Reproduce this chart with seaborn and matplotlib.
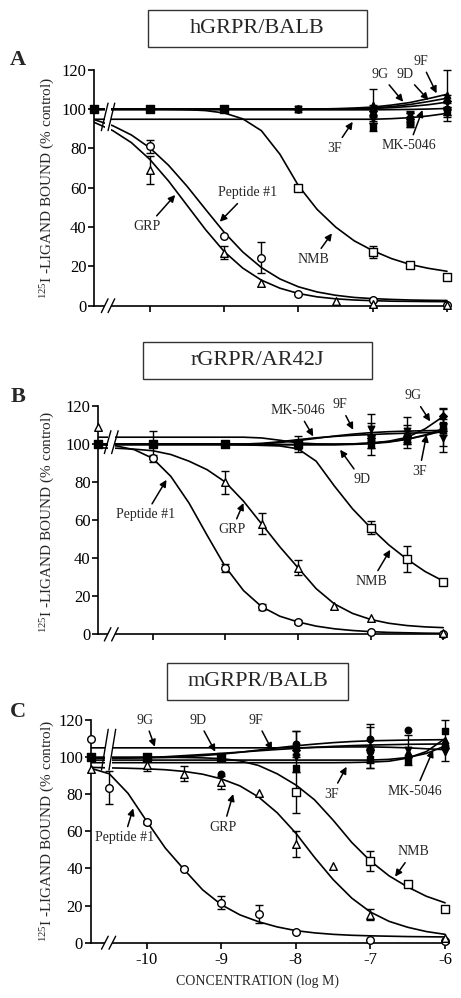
import numpy as np
import pandas as pd
import seaborn as sns
import matplotlib.pyplot as plt
from matplotlib.patches import Rectangle

nan = np.nan

# log M grid on which the fitted curves were read (control sits at -10.75)
CURVE_X = [-10.75, -10.5, -10.25, -10.0, -9.75, -9.5, -9.25, -9.0, -8.75, -8.5,
           -8.25, -8.0, -7.75, -7.5, -7.25, -7.0, -6.75, -6.5, -6.25, -6.0]

DOSE_AB = [-10.75, -10, -9, -8.5, -8, -7.5, -7, -6.5, -6]
DOSE_C = [-10.75, -10.5, -10, -9.5, -9, -8.5, -8, -7.5, -7, -6.5, -6]

OPEN_NAMES = ["Peptide #1", "GRP", "NMB"]
FILLED_NAMES = ["9D", "9F", "9G", "MK-5046", "3F"]
MARKS = {"Peptide #1": "o", "GRP": "^", "NMB": "s",
         "9D": "o", "9F": "^", "9G": "D", "3F": "s", "MK-5046": "v"}

# ---- panel A : hGRPR/BALB ----
A_FIT = {
    "Peptide #1": [94.6, 91.5, 86.8, 80.2, 71.4, 60.7, 48.9, 37.3, 27.3, 19.4,
                   13.6, 9.6, 7.0, 5.3, 4.2, 3.6, 3.2, 2.9, 2.75, 2.65],
    "GRP": [93.2, 89.0, 82.9, 74.3, 63.4, 51.0, 38.6, 27.5, 19.1, 13.0,
            8.9, 6.2, 4.5, 3.5, 2.9, 2.55, 2.3, 2.2, 2.1, 2.05],
    "NMB": [100, 100, 100, 100, 99.9, 99.7, 99.2, 98, 95, 89,
            77, 61, 49, 40, 33, 28, 24, 21, 19, 17.5],
    "9D": [100, 100, 100, 100, 100, 100, 100, 100, 100, 100,
           100, 100, 100, 100, 100.2, 100.5, 101.2, 102.3, 103.8, 105.5],
    "9F": [100, 100, 100, 100, 100, 100, 100, 100, 100, 100,
           100, 100, 100, 100.2, 100.5, 101, 102, 103.3, 105.3, 107.5],
    "9G": [100, 100, 100, 100, 100, 100, 100, 100, 100, 100,
           100, 100, 100, 100, 100.1, 100.3, 100.7, 101.3, 102.2, 103.5],
    "3F": [94.8, 94.8, 94.8, 94.8, 94.8, 94.8, 94.8, 94.8, 94.8, 94.8,
           94.8, 94.8, 94.8, 94.8, 94.8, 94.8, 95.1, 95.6, 96.5, 97.8],
    "MK-5046": [99.6, 99.6, 99.6, 99.6, 99.6, 99.6, 99.6, 99.6, 99.6, 99.6,
                99.6, 99.6, 99.6, 99.6, 99.6, 99.6, 99.7, 99.8, 100, 100.3],
}
A_PTS = {
    "Peptide #1": [100, 81, 35.5, 24.5, 6, nan, 3, nan, 0.5],
    "GRP": [100, 69, 27, 11.5, nan, 2.5, 1, nan, 0.3],
    "NMB": [100, 100, 100, nan, 60, nan, 27.5, 20.5, 14.5],
    "9D": [100, 100, 100, nan, 100, nan, 97, 93, 100],
    "9F": [100, 100, 100, nan, 100, nan, 102, 95, 107],
    "9G": [100, 100, 100, nan, 100, nan, 99, 96, 104],
    "3F": [100, 100, 100, nan, 100, nan, 91, 93, 99],
    "MK-5046": [100, 100, 100, nan, 100, nan, 95, 97, 98],
}
A_ERR = {
    "Peptide #1": [0, 3.5, 0, 8, 0, 0, 0, 0, 0],
    "GRP": [0, 7, 3.5, 0, 0, 0, 1.5, 0, 0],
    "NMB": [0, 0, 0, 0, 0, 0, 3, 0, 1.5],
    "9D": [0, 0, 0, 0, 0, 0, 4, 2, 3],
    "9F": [0, 0, 0, 0, 0, 0, 8, 3, 13],
    "9G": [0, 0, 0, 0, 0, 0, 3, 2, 3],
    "3F": [0, 0, 0, 0, 0, 0, 2, 2, 2],
    "MK-5046": [0, 0, 0, 0, 0, 0, 2, 2, 2],
}
A_NOTES = [("9F", (-6.35, 124.3), (-6.14, 108)),
           ("9G", (-6.9, 117.8), (-6.59, 103.7)),
           ("9D", (-6.57, 117.8), (-6.25, 104.6)),
           ("3F", (-7.51, 80), (-7.27, 93.5)),
           ("MK-5046", (-6.51, 81.3), (-6.33, 99.5)),
           ("Peptide #1", (-8.68, 57.4), (-9.06, 42.7)),
           ("GRP", (-10.04, 40.2), (-9.66, 56.3)),
           ("NMB", (-7.8, 23.6), (-7.55, 36.8))]

# ---- panel B : rGRPR/AR42J ----
B_FIT = {
    "Peptide #1": [100, 99, 97, 92.5, 83, 69, 52, 35.5, 23, 14.5,
                   9.5, 6.5, 4.3, 2.9, 2, 1.4, 1, 0.8, 0.6, 0.5],
    "GRP": [98, 97.8, 97.3, 96.5, 94.5, 91, 86.5, 80, 70, 58,
            46, 35, 24, 16, 11, 7.8, 5.8, 4.6, 3.9, 3.5],
    "NMB": [100, 100, 100, 100, 100, 100, 100, 99.8, 99.6, 99.3,
            99, 97.5, 91, 78, 66, 56, 47, 39.5, 33, 28],
    "9D": [99.6, 99.6, 99.6, 99.6, 99.6, 99.6, 99.6, 99.6, 99.6, 99.6,
           99.6, 99.6, 99.6, 99.6, 99.8, 100.2, 101, 102.5, 104.8, 108],
    "9F": [100, 100, 100, 100, 100, 100, 100, 100, 100, 100,
           100.8, 101.8, 103, 104.2, 105.2, 106, 106.5, 106.8, 107, 107.2],
    "9G": [103.6, 103.6, 103.6, 103.6, 103.6, 103.6, 103.6, 103.6, 103.6, 103.2,
           102, 100.6, 100.1, 100, 100.1, 100.5, 101.5, 103.5, 108, 114.5],
    "3F": [99.8, 99.8, 99.8, 99.8, 99.8, 99.8, 99.8, 99.8, 99.8, 99.8,
           99.8, 99.8, 99.8, 99.8, 100, 100.5, 101.3, 102.5, 104.5, 107],
    "MK-5046": [100, 100, 100, 100, 100, 100, 100, 100, 100, 100.4,
                101.2, 102.3, 103.3, 104, 104.6, 105, 105.4, 105.7, 106, 106.2],
}
B_PTS = {
    "Peptide #1": [100, 92.5, 35, 14.5, 6.5, nan, 1.2, nan, 0.3],
    "GRP": [109, nan, 80, 58, 35, 15, 8.5, nan, 0.5],
    "NMB": [100, 100, 100, nan, 100, nan, 56, 39.5, 27.5],
    "9D": [100, 100, 100, nan, 99.5, nan, 101, 104, 108],
    "9F": [100, 100, 100, nan, 100, nan, 105, 106, 107.5],
    "9G": [100, 100, 100, nan, 100, nan, 103, 103, 114.5],
    "3F": [100, 100, 100, nan, 100, nan, 100, 102, 110],
    "MK-5046": [100, 100, 100, nan, 100, nan, 108, 107, 103],
}
B_ERR = {
    "Peptide #1": [0, 2, 2, 1.5, 1, 0, 0, 0, 0],
    "GRP": [0, 0, 6, 5.5, 4, 0, 0, 0, 0],
    "NMB": [0, 0, 0, 0, 0, 0, 3.5, 7, 1],
    "9D": [0, 0, 0, 0, 2, 0, 3, 3, 3],
    "9F": [0, 7, 0, 0, 4, 0, 11, 8, 11.5],
    "9G": [0, 0, 0, 0, 0, 0, 2, 3, 4],
    "3F": [0, 0, 0, 0, 0, 0, 2, 2, 3],
    "MK-5046": [0, 0, 0, 0, 0, 0, 3, 3, 4],
}
B_NOTES = [("MK-5046", (-8.0, 117.7), (-7.79, 104)),
           ("9F", (-7.42, 120.7), (-7.24, 107.5)),
           ("9G", (-6.41, 125.4), (-6.18, 111.9)),
           ("9D", (-7.12, 81.2), (-7.42, 97)),
           ("3F", (-6.33, 85.6), (-6.23, 104.9)),
           ("Peptide #1", (-10.1, 62.8), (-9.81, 81.2)),
           ("GRP", (-8.91, 54.9), (-8.75, 69)),
           ("NMB", (-6.99, 27.7), (-6.73, 44.4))]

# ---- panel C : mGRPR/BALB ----
C_FIT = {
    "Peptide #1": [94, 91, 80.5, 65.5, 51, 39.5, 28.5, 20.5, 15, 11.3,
                   8.5, 6.5, 5.3, 4.5, 4, 3.7, 3.5, 3.3, 3.2, 3.1],
    "GRP": [94.5, 94.2, 94, 93.7, 93.2, 92.3, 90.8, 88.3, 84.5, 78.5,
            70, 59, 46, 34, 24, 16.5, 11.5, 8.3, 6, 4.5],
    "NMB": [100, 100, 100, 100, 99.9, 99.8, 99.6, 99.2, 98, 95.5,
            91, 85, 77, 66, 54, 44, 36, 30, 25, 21.5],
    "9D": [99.5, 99.5, 99.6, 99.8, 100.2, 100.8, 101.4, 102, 102.7, 103.4,
           104.1, 104.7, 105.3, 105.8, 106.2, 106.5, 106.7, 106.9, 107, 107.1],
    "9F": [99.5, 99.5, 99.5, 99.6, 99.8, 100.2, 100.8, 101.6, 102.6, 103.8,
           105, 106.1, 107, 107.8, 108.4, 108.8, 109, 109.2, 109.3, 109.4],
    "9G": [105, 105, 105, 105, 105, 105, 105, 105, 105, 105,
           105, 105, 105.2, 105.4, 105.5, 105.5, 105.3, 105, 104.5, 104],
    "3F": [97, 97, 97, 97, 97, 97, 97, 97, 97, 97,
           97, 97, 97, 97, 97.1, 97.3, 97.8, 99.5, 103, 110],
    "MK-5046": [98.4, 98.4, 98.4, 98.4, 98.4, 98.4, 98.4, 98.4, 98.4, 98.4,
                98.4, 98.4, 98.4, 98.4, 98.4, 98.4, 98.8, 99.8, 102, 106],
}
C_PTS = {
    "Peptide #1": [109.5, 83.5, 65, 39.5, 21.5, 15.5, 5.5, nan, 1.5, nan, 0.8],
    "GRP": [93.5, nan, 95.5, 91, 86.5, 80.5, 53, 41.5, 15, nan, 2.5],
    "NMB": [100, nan, 100, nan, 100, nan, 81, nan, 44, 31.5, 18],
    "9D": [100, nan, 100, nan, 91, nan, 107, nan, 110, 114.5, 106],
    "9F": [100, nan, 100, nan, 100, nan, 103, nan, 106, 103, 109],
    "9G": [100, nan, 100, nan, 100, nan, 104, nan, 104, 100, 105],
    "3F": [100, nan, 100, nan, 99.5, nan, 94, nan, 99, 98, 114],
    "MK-5046": [100, nan, 100, nan, 100, nan, 100, nan, 101, 104, 103],
}
C_ERR = {
    "Peptide #1": [0, 9, 1, 0.5, 3.5, 5, 0, 0, 0, 0, 0],
    "GRP": [0, 0, 3, 4, 3.5, 0, 7, 0, 3, 0, 0],
    "NMB": [0, 0, 0, 0, 0, 0, 11, 0, 5.5, 1, 0],
    "9D": [0, 0, 0, 0, 0, 0, 7, 0, 6, 0, 0],
    "9F": [0, 0, 0, 0, 0, 0, 11, 0, 12, 0, 11],
    "9G": [0, 0, 0, 0, 0, 0, 0, 0, 0, 0, 0],
    "3F": [0, 0, 0, 0, 0, 0, 0, 0, 5, 0, 0],
    "MK-5046": [0, 0, 0, 0, 0, 0, 0, 0, 4, 8, 0],
}
C_NOTES = [("9G", (-10.02, 120), (-9.89, 105.6)),
           ("9D", (-9.31, 120), (-9.08, 102.9)),
           ("9F", (-8.53, 120), (-8.32, 103.8)),
           ("3F", (-7.52, 80.1), (-7.32, 94.8)),
           ("MK-5046", (-6.4, 81.4), (-6.16, 103.8)),
           ("Peptide #1", (-10.3, 56.6), (-10.18, 72.4)),
           ("GRP", (-8.97, 62.2), (-8.84, 80.1)),
           ("NMB", (-6.43, 49), (-6.67, 35.6))]

W, H = 461, 998

# layout in pixels: axes (left, right, top, bottom), title box (l, t, r, b)
PANELS = [
    dict(title="hGRPR/BALB", letter="A", letter_y=60, ylab_y=188,
         ax_px=(94.3, 450.7, 69.7, 305.7), box=(148, 10, 367, 47),
         fit=A_FIT, pts=A_PTS, err=A_ERR, dose=DOSE_AB, notes=A_NOTES,
         gap=(-10.61, -10.52), cut=(89, 103), xlab=False),
    dict(title="rGRPR/AR42J", letter="B", letter_y=397, ylab_y=522,
         ax_px=(98.2, 446.9, 406, 634.3), box=(143, 342, 372, 379),
         fit=B_FIT, pts=B_PTS, err=B_ERR, dose=DOSE_AB, notes=B_NOTES,
         gap=(-10.62, -10.52), cut=(95, 107), xlab=False),
    dict(title="mGRPR/BALB", letter="C", letter_y=712, ylab_y=831,
         ax_px=(90.7, 448.8, 720, 942.7), box=(167, 663, 348, 700),
         fit=C_FIT, pts=C_PTS, err=C_ERR, dose=DOSE_C, notes=C_NOTES,
         gap=(-10.56, -10.46), cut=(93, 115), xlab=True),
]

sns.set_style("ticks")
plt.rcParams["font.family"] = ["Liberation Serif", "DejaVu Serif"]
plt.rcParams["mathtext.fontset"] = "custom"
plt.rcParams["mathtext.rm"] = "Liberation Serif"
plt.rcParams["axes.unicode_minus"] = False

fig = plt.figure(figsize=(W / 100, H / 100), dpi=100)


def draw_panel(p):
    l, r, t, b = p["ax_px"]
    ax = fig.add_axes([l / W, 1 - b / H, (r - l) / W, (b - t) / H])

    # fitted curves
    rows = []
    for name, ys in p["fit"].items():
        for x, y in zip(CURVE_X, ys):
            rows.append({"compound": name, "logM": x, "bound": y})
    curves = pd.DataFrame(rows)
    sns.lineplot(data=curves, x="logM", y="bound", units="compound", estimator=None,
                 color="black", linewidth=1.2, legend=False, ax=ax, zorder=2)

    # data points, open series first so the filled ones sit on top
    for name in OPEN_NAMES + FILLED_NAMES:
        x = np.array(p["dose"], dtype=float)
        y = np.array(p["pts"][name], dtype=float)
        e = np.array(p["err"][name], dtype=float)
        ok = ~np.isnan(y)
        we = ok & (e > 0)
        if we.any():
            ax.errorbar(x[we], y[we], yerr=e[we], fmt="none", ecolor="black",
                        elinewidth=1, capsize=3, capthick=1, zorder=3, clip_on=False)
        is_open = name in OPEN_NAMES
        size = 30 if is_open else 22
        if MARKS[name] == "D":
            size = 15
        sns.scatterplot(x=x[ok], y=y[ok], marker=MARKS[name], s=size,
                        color="white" if is_open else "black", edgecolor="black",
                        linewidth=1, ax=ax, zorder=4, clip_on=False, legend=False)

    # axis break on the curves and on the x axis
    g0, g1 = p["gap"]
    c0, c1 = p["cut"]
    ax.add_patch(Rectangle((g0, c0), g1 - g0, c1 - c0, facecolor="white",
                           edgecolor="none", zorder=3.5))
    ax.add_patch(Rectangle((g0, -1.5), g1 - g0, 3, facecolor="white",
                           edgecolor="none", zorder=5, clip_on=False))
    for gx in (g0, g1):
        ax.plot([gx - 0.045, gx + 0.045], [c0, c1], color="black", lw=1, zorder=3.6)
        ax.plot([gx - 0.045, gx + 0.045], [-3.5, 3.5], color="black", lw=1,
                zorder=6, clip_on=False)

    for label, txt, tip in p["notes"]:
        ax.annotate(label, xy=tip, xytext=txt, ha="center", va="center", fontsize=10,
                    annotation_clip=False,
                    arrowprops=dict(arrowstyle="-|>", color="black", lw=1.1,
                                    mutation_scale=10, shrinkA=1, shrinkB=0))

    ax.set_xlim(-10.75, -5.95)
    ax.set_ylim(0, 120)
    ax.set_xticks([-10, -9, -8, -7, -6])
    ax.set_yticks([0, 20, 40, 60, 80, 100, 120])
    ax.set_xlabel("")
    ax.set_ylabel("")
    ax.tick_params(direction="out", length=4, width=1.2, labelsize=12, pad=1.5,
                   colors="black")
    ax.tick_params(axis="x", pad=3, labelbottom=p["xlab"])
    if p["xlab"]:
        ax.set_xticklabels(["-10", "-9", "-8", "-7", "-6"])
    sns.despine(ax=ax)
    for s in ("left", "bottom"):
        ax.spines[s].set_linewidth(1.2)
        ax.spines[s].set_color("black")

    # title box, panel letter, y label
    bl, bt, br, bb = p["box"]
    fig.add_artist(Rectangle((bl / W, 1 - bb / H), (br - bl) / W, (bb - bt) / H,
                             transform=fig.transFigure, fill=False,
                             edgecolor="#333333", linewidth=1))
    fig.text((bl + br) / 2 / W, 1 - (bt + bb) / 2 / H, p["title"], fontsize=16,
             ha="center", va="center")
    fig.text(18 / W, 1 - p["letter_y"] / H, p["letter"], fontsize=16,
             fontweight="bold", ha="center", va="center")
    fig.text(48 / W, 1 - p["ylab_y"] / H,
             r"$\mathregular{^{125}}$I -LIGAND BOUND (% control)",
             rotation=90, fontsize=11, ha="center", va="center")
    return ax


for panel in PANELS:
    draw_panel(panel)

fig.text(257 / W, 1 - 981 / H, "CONCENTRATION (log M)", fontsize=10,
         ha="center", va="center")

fig.savefig("out.png", dpi=100)
